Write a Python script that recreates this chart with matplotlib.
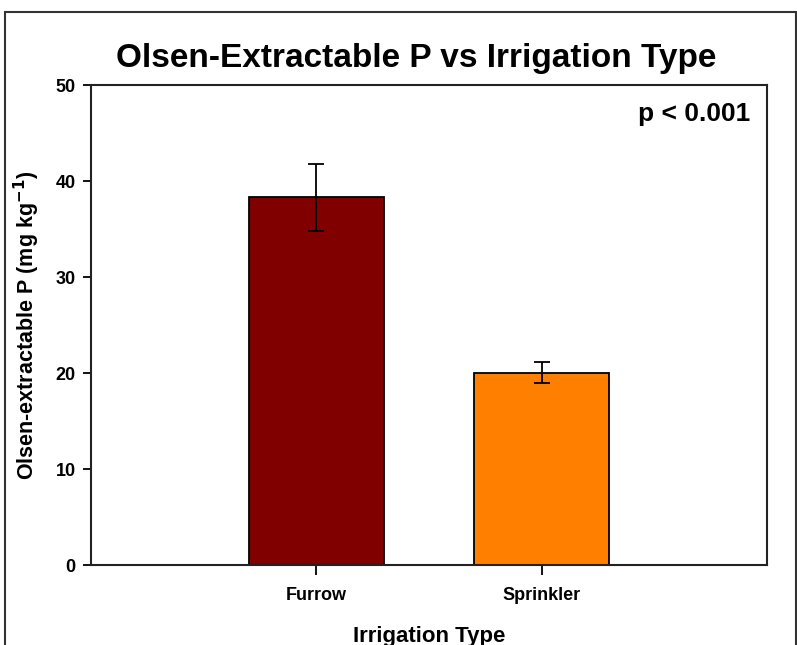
import matplotlib.pyplot as plt
from matplotlib.patches import Rectangle

plt.rcParams['font.family'] = ['Liberation Sans', 'DejaVu Sans']
plt.rcParams['font.weight'] = 'bold'

# data
types = ["Furrow", "Sprinkler"]
means = [38.3, 20.05]
errs = [3.5, 1.05]
colors = ["#800000", "#FF8000"]
positions = [1, 2]

W, H = 797, 645
fig = plt.figure(figsize=(W / 100, H / 100), dpi=100)
ax = fig.add_axes([91 / W, 1 - 565 / H, (767 - 91) / W, (565 - 85) / H])

ax.bar(positions, means, width=0.6, color=colors, edgecolor="black", linewidth=1.3, zorder=2)
ax.errorbar(positions, means, yerr=errs, fmt="none", ecolor="black",
            elinewidth=1.3, capsize=5.5, capthick=1.3, zorder=3)

ax.set_xlim(0, 3)
ax.set_ylim(0, 50)
ax.set_yticks([0, 10, 20, 30, 40, 50])
ax.set_xticks(positions)
ax.set_xticklabels(types)
ax.tick_params(axis="y", length=6, width=1.3, labelsize=13, pad=5)
ax.tick_params(axis="x", length=7, width=1.3, labelsize=13, pad=9)
for s in ax.spines.values():
    s.set_linewidth(1.5)
    s.set_color("#222222")

ax.set_ylabel("Olsen-extractable P (mg kg$^{\\mathbf{-1}}$)", fontsize=15.5, fontweight="bold", labelpad=10)
ax.set_xlabel("Irrigation Type", fontsize=16, fontweight="bold", labelpad=16)
ax.text(0.975, 1 - (114 - 85) / 480, "p < 0.001", transform=ax.transAxes, ha="right", va="center",
        fontsize=19, fontweight="bold")

fig.text(416 / W, 1 - 59 / H, "Olsen-Extractable P vs Irrigation Type", ha="center", va="center",
         fontsize=24, fontweight="bold")

# outer frame
fig.patches.append(Rectangle((5 / W, -0.1), (796 - 5) / W, 1.1 - 12 / H,
                             transform=fig.transFigure, fill=False, edgecolor="#333333",
                             linewidth=1.5, clip_on=False))

fig.savefig("out.png", dpi=100)
